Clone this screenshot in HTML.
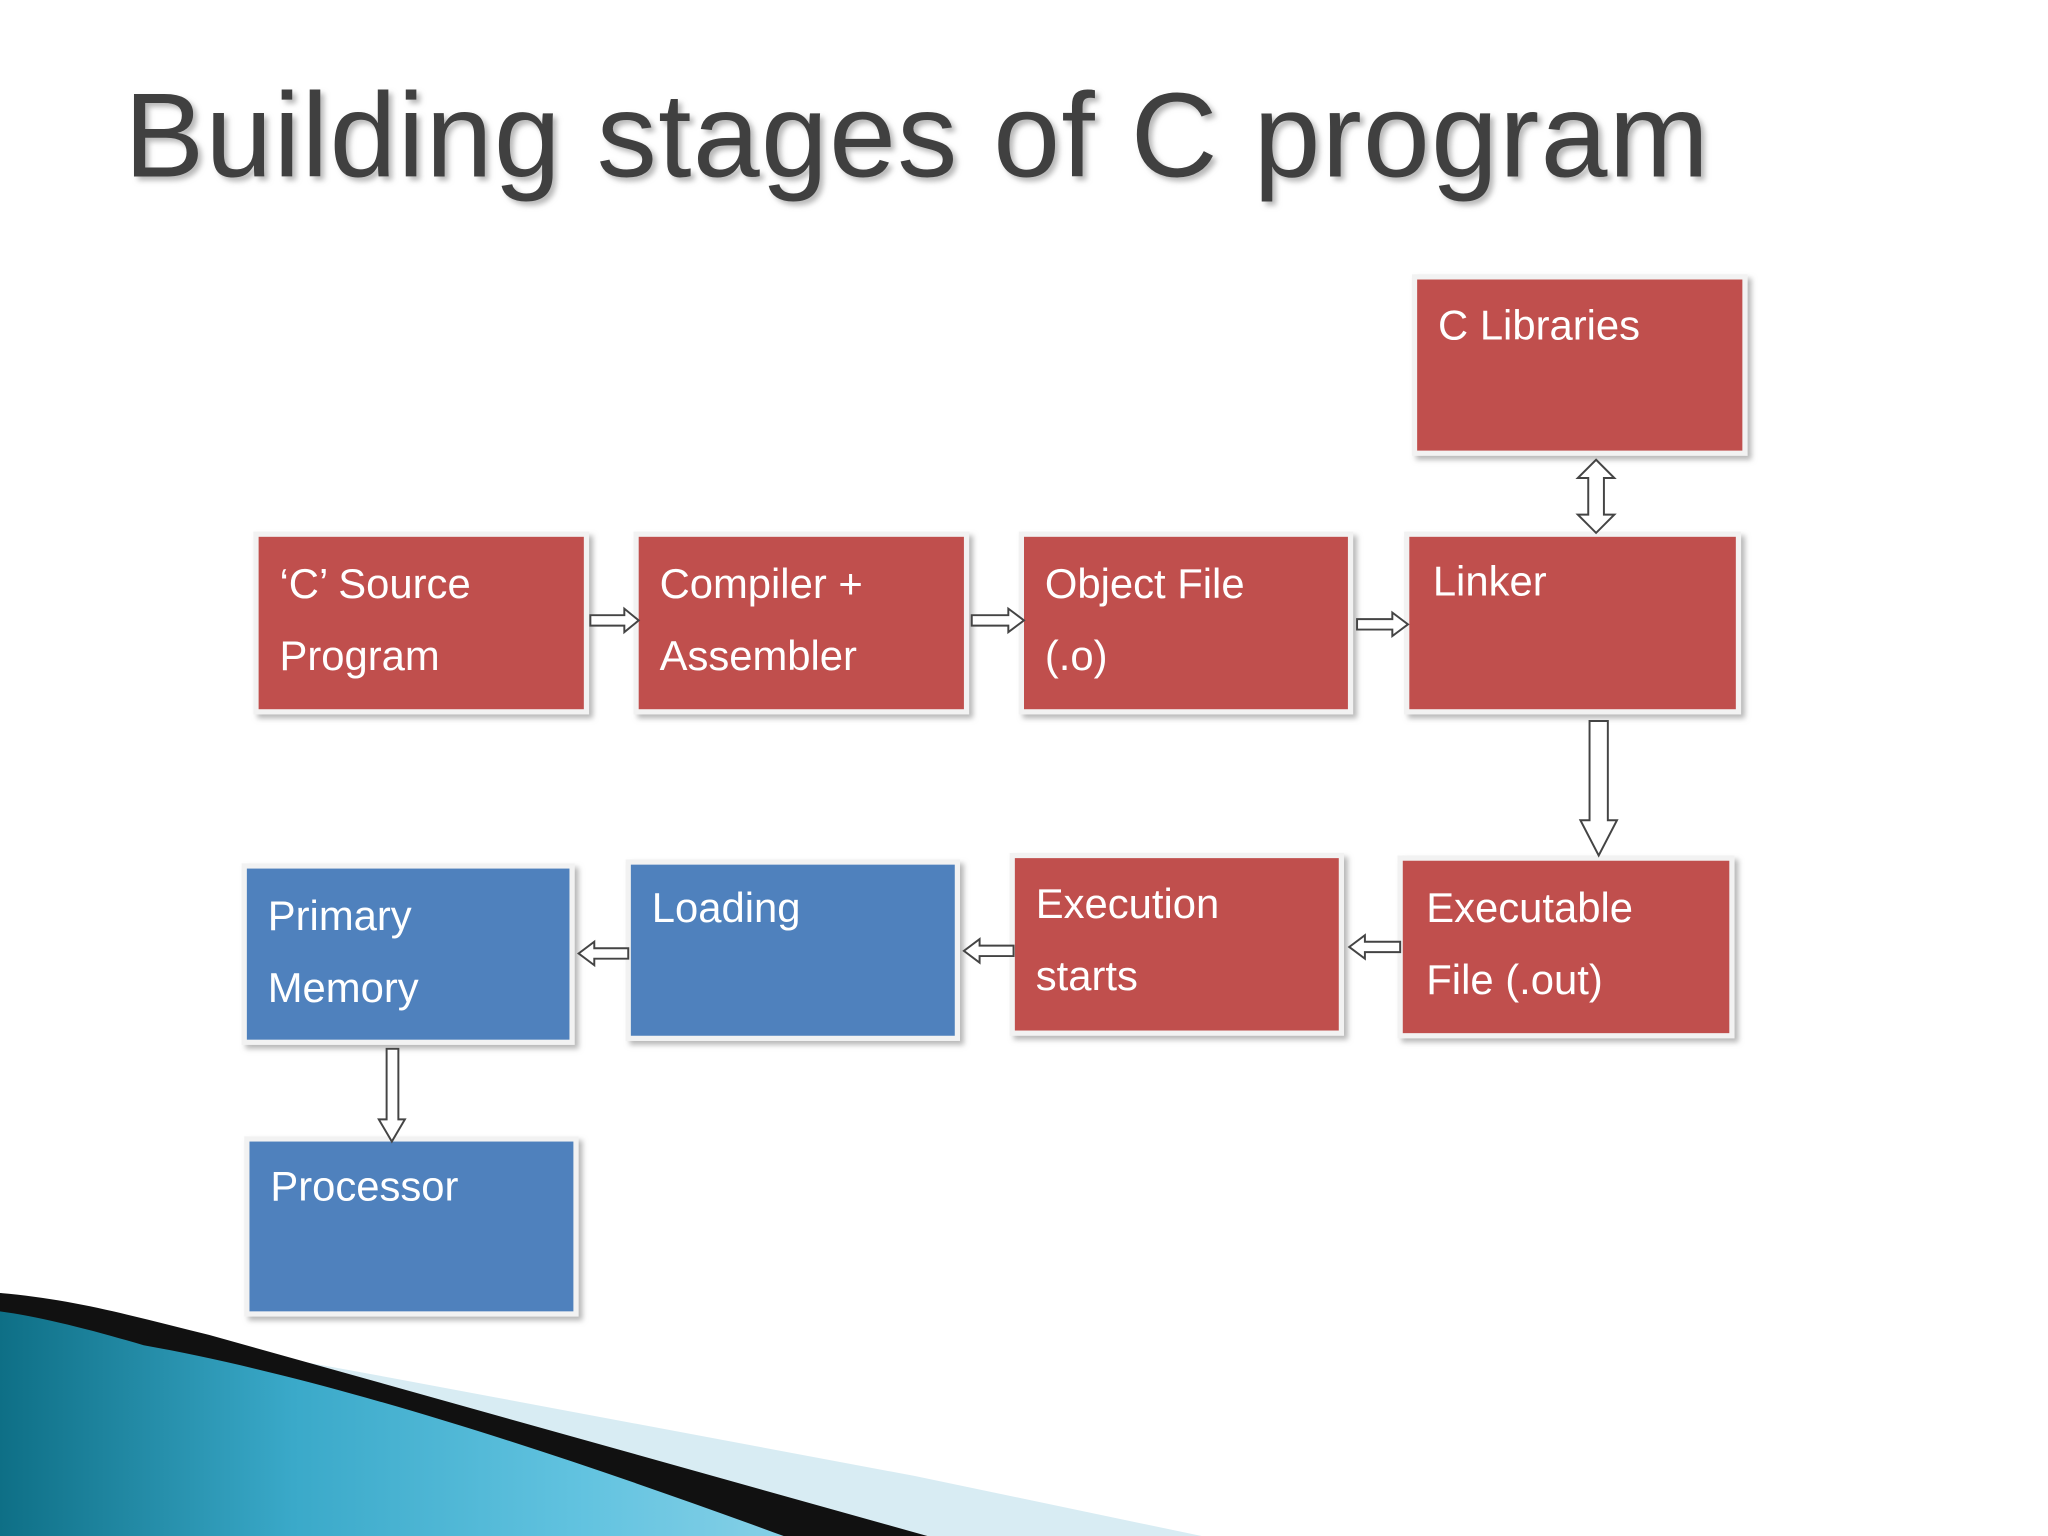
<!DOCTYPE html>
<html><head><meta charset="utf-8"><style>
html,body{margin:0;padding:0;background:#fff;}
svg{display:block;}
text{font-family:"Liberation Sans","DejaVu Sans",sans-serif;}
</style></head><body>
<svg width="2048" height="1536" viewBox="0 0 1568 1176" xmlns="http://www.w3.org/2000/svg">
<defs>
<linearGradient id="tg" x1="0" y1="0" x2="1" y2="0">
<stop offset="0" stop-color="#0e6f86"/><stop offset="0.35" stop-color="#3aa9c9"/><stop offset="0.7" stop-color="#62c3e0"/><stop offset="1" stop-color="#8fd3e8"/>
</linearGradient>
<filter id="sh" x="-5%" y="-5%" width="115%" height="115%"><feDropShadow dx="3" dy="3" stdDeviation="2" flood-color="#999" flood-opacity="0.7"/></filter>
<filter id="ts"><feDropShadow dx="3" dy="3" stdDeviation="2" flood-color="#888" flood-opacity="0.6"/></filter>
</defs>
<rect width="1568" height="1176" fill="#fff"/>
<text x="95" y="135" font-size="92" fill="#404040" filter="url(#ts)" letter-spacing="1">Building stages of C program</text>

<g filter="url(#sh)" stroke="#f2f2f2" stroke-width="4">
<rect x="1083" y="212" width="253" height="135" fill="#C0504D"/>
<rect x="196" y="409" width="253" height="136" fill="#C0504D"/>
<rect x="487" y="409" width="253" height="136" fill="#C0504D"/>
<rect x="782" y="409" width="252" height="136" fill="#C0504D"/>
<rect x="1077" y="409" width="254" height="136" fill="#C0504D"/>
<rect x="1072" y="657" width="254" height="136" fill="#C0504D"/>
<rect x="775" y="655" width="252" height="136" fill="#C0504D"/>
<rect x="481" y="660" width="252" height="135" fill="#4F81BD"/>
<rect x="187" y="663" width="251" height="135" fill="#4F81BD"/>
<rect x="189" y="872" width="252" height="134" fill="#4F81BD"/>
</g>

<g font-size="32" fill="#fff">
<text x="1101" y="260">C Libraries</text>
<text x="214" y="458">‘C’ Source</text><text x="214" y="513">Program</text>
<text x="505" y="458">Compiler +</text><text x="505" y="513">Assembler</text>
<text x="800" y="458">Object File</text><text x="800" y="513">(.o)</text>
<text x="1097" y="456">Linker</text>
<text x="1092" y="706">Executable</text><text x="1092" y="761">File (.out)</text>
<text x="793" y="703">Execution</text><text x="793" y="758">starts</text>
<text x="499" y="706">Loading</text>
<text x="205" y="712">Primary</text><text x="205" y="767">Memory</text>
<text x="207" y="919">Processor</text>
</g>

<g fill="#fff" stroke="#444" stroke-width="1.5">
<!-- right arrows -->
<polygon points="452,471 478,471 478,466 489,475 478,484 478,479 452,479"/>
<polygon points="744,471 772,471 772,466 784,475 772,484 772,479 744,479"/>
<polygon points="1039,474 1066,474 1066,469 1078,478 1066,487 1066,482 1039,482"/>
<!-- left arrows -->
<polygon points="1072,721 1045,721 1045,716 1033,725 1045,734 1045,729 1072,729"/>
<polygon points="776,724 750,724 750,719 738,728 750,737 750,732 776,732"/>
<polygon points="481,726 455,726 455,721 443,730 455,739 455,734 481,734"/>
<!-- linker down -->
<polygon points="1217,552 1231,552 1231,628 1238,628 1224,655 1210,628 1217,628"/>
<!-- double arrow -->
<polygon points="1222,352 1236,366 1228,366 1228,394 1236,394 1222,408 1208,394 1216,394 1216,366 1208,366"/>
<!-- memory down -->
<polygon points="296,803 305,803 305,857 310,857 300,874 290,857 296,857"/>
</g>

<!-- bottom swoosh -->
<polygon points="0,1000 300,1055 700,1130 920,1176 0,1176" fill="#d8ecf3"/>
<path d="M0,990 C200,1030 450,1100 640,1176 L0,1176 Z" fill="url(#tg)"/>
<path d="M0,990 C60,995 110,1010 160,1022 L710,1176 L600,1176 C420,1110 250,1055 110,1030 C70,1018 30,1008 0,1004 Z" fill="#111"/>
</svg>
</body></html>
